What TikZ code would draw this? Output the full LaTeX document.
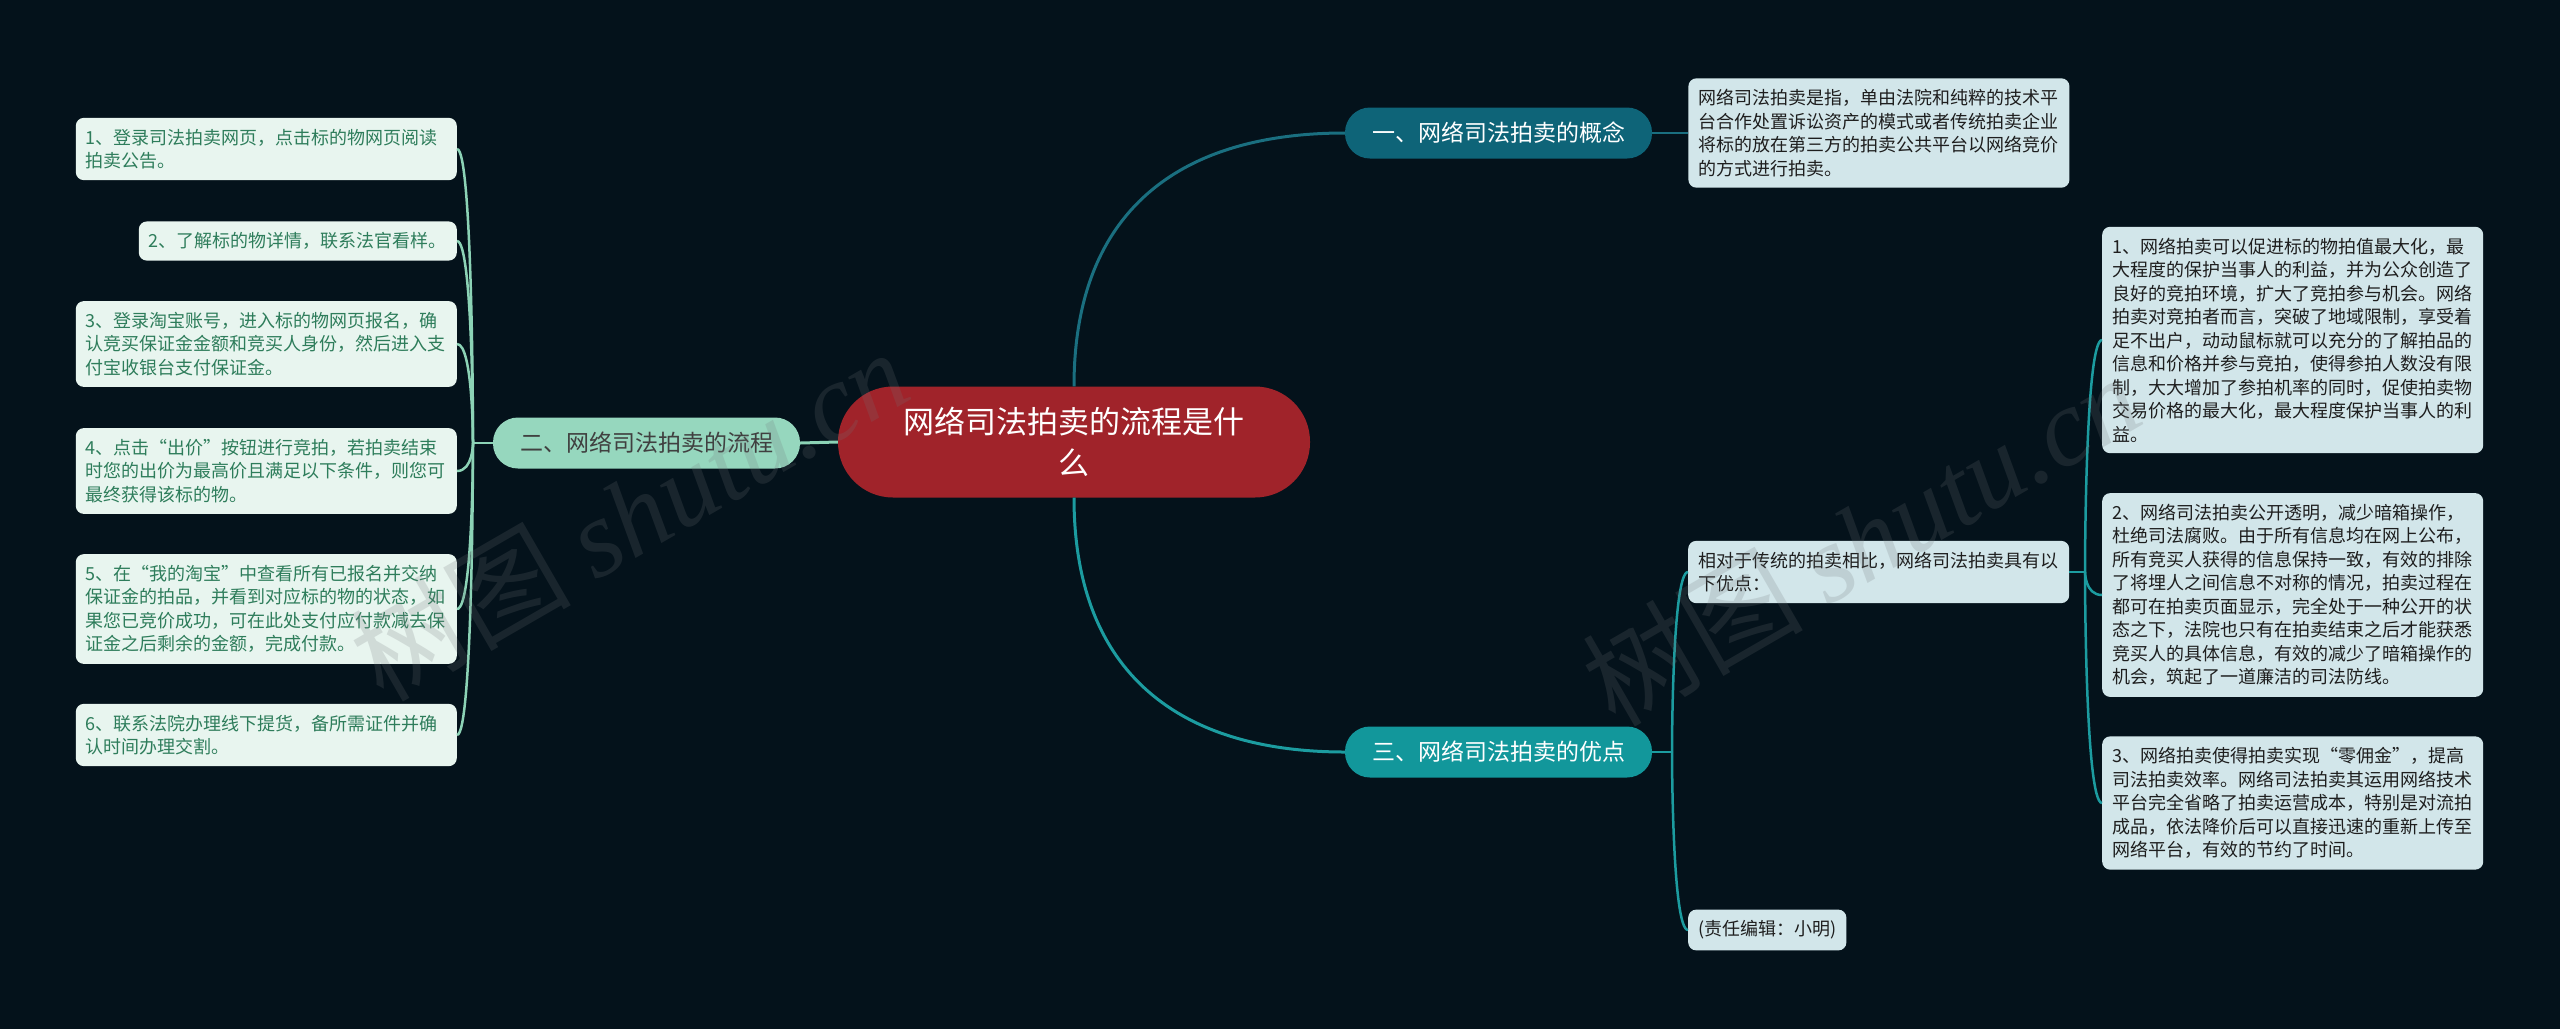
\documentclass[tikz,border=0pt]{standalone}
\usepackage{fontspec}
\setmainfont{Noto Sans CJK SC}
\newfontfamily\wmfont{Liberation Serif}
\usepackage{xcolor}
\definecolor{cBg}{HTML}{04121B}
\definecolor{cRoot}{HTML}{A0232A}
\definecolor{cDeep}{HTML}{0E6478}
\definecolor{cDeepLine}{HTML}{1A6F80}
\definecolor{cTeal}{HTML}{12979B}
\definecolor{cTealLine}{HTML}{1C9CA0}
\definecolor{cMint}{HTML}{96D7BE}
\definecolor{cMintLine}{HTML}{8CD3B6}
\definecolor{cLeafG}{HTML}{E8F5EF}
\definecolor{cLeafGText}{HTML}{2E7D5B}
\definecolor{cLeafB}{HTML}{D2E6EA}
\definecolor{cInk}{HTML}{1E1E1E}
\definecolor{cMark}{HTML}{707578}
\usepackage{tikz}
\usetikzlibrary{positioning,calc}
\tikzset{
  node-root/.style={fill=cRoot,rounded corners=55pt,minimum width=472pt,
    minimum height=111pt,align=center,text=white,font=\fontsize{31}{41}\selectfont},
  node-topic/.style={rounded corners=25pt,minimum width=307pt,minimum height=51pt,
    align=center,font=\fontsize{23}{28}\selectfont},
  topic-deep/.style={fill=cDeep,text=white},
  topic-teal/.style={fill=cTeal,text=white},
  topic-mint/.style={fill=cMint,text=black!75},
  node-leaf/.style={rounded corners=8pt,inner xsep=10pt,inner ysep=11pt,
    align=left,font=\fontsize{18}{23.5}\selectfont},
  leaf-green/.style={fill=cLeafG,text=cLeafGText},
  leaf-blue/.style={fill=cLeafB,text=cInk},
  leaf-wide/.style={text width=361pt},
  link-deep/.style={draw=cDeepLine,line width=3pt},
  link-teal/.style={draw=cTealLine,line width=3pt},
  link-mint/.style={draw=cMintLine,line width=3pt},
  % 水印：树图 shutu.cn
  wm/.style={rotate=30,text=cMark,text opacity=0.2,font=\fontsize{110}{110}\selectfont},
}
\begin{document}
\begin{tikzpicture}[x=1pt,y=-1pt]
  \fill[cBg] (0,0) rectangle (2560,1029);
  \useasboundingbox (0,0) rectangle (2560,1029);
  % 中心主题与三个分支
  \node[node-root] (root) at (1074,442) {网络司法拍卖的流程是什\\么};
  \node[node-topic,topic-deep] (concept) at (1498.5,133) {一、网络司法拍卖的概念};
  \node[node-topic,topic-mint] (process) at (646.5,443) {二、网络司法拍卖的流程};
  \node[node-topic,topic-teal] (merit) at (1498.5,752) {三、网络司法拍卖的优点};
  % 一、概念
  \node[node-leaf,leaf-blue,leaf-wide,right=36pt of concept] (def)
    {网络司法拍卖是指，单由法院和纯粹的技术平\\台合作处置诉讼资产的模式或者传统拍卖企业\\将标的放在第三方的拍卖公共平台以网络竞价\\的方式进行拍卖。};
  % 二、流程
  \node[node-leaf,leaf-green,leaf-wide,anchor=east] (step1) at (457,149)
    {1、登录司法拍卖网页，点击标的物网页阅读\\拍卖公告。};
  \node[node-leaf,leaf-green,anchor=east] (step2) at (457,241)
    {2、了解标的物详情，联系法官看样。};
  \node[node-leaf,leaf-green,leaf-wide,anchor=east] (step3) at (457,344)
    {3、登录淘宝账号，进入标的物网页报名，确\\认竞买保证金金额和竞买人身份，然后进入支\\付宝收银台支付保证金。};
  \node[node-leaf,leaf-green,leaf-wide,anchor=east] (step4) at (457,471)
    {4、点击“出价”按钮进行竞拍，若拍卖结束\\时您的出价为最高价且满足以下条件，则您可\\最终获得该标的物。};
  \node[node-leaf,leaf-green,leaf-wide,anchor=east] (step5) at (457,609)
    {5、在“我的淘宝”中查看所有已报名并交纳\\保证金的拍品，并看到对应标的物的状态，如\\果您已竞价成功，可在此处支付应付款减去保\\证金之后剩余的金额，完成付款。};
  \node[node-leaf,leaf-green,leaf-wide,anchor=east] (step6) at (457,735)
    {6、联系法院办理线下提货，备所需证件并确\\认时间办理交割。};
  % 三、优点
  \node[node-leaf,leaf-blue,leaf-wide,anchor=west] (intro) at (1688,572)
    {相对于传统的拍卖相比，网络司法拍卖具有以\\下优点：};
  \node[node-leaf,leaf-blue,anchor=west] (editor) at (1688,930) {(责任编辑：小明)};
  \node[node-leaf,leaf-blue,leaf-wide,anchor=west] (adv1) at (2102,340)
    {1、网络拍卖可以促进标的物拍值最大化，最\\大程度的保护当事人的利益，并为公众创造了\\良好的竞拍环境，扩大了竞拍参与机会。网络\\拍卖对竞拍者而言，突破了地域限制，享受着\\足不出户，动动鼠标就可以充分的了解拍品的\\信息和价格并参与竞拍，使得参拍人数没有限\\制，大大增加了参拍机率的同时，促使拍卖物\\交易价格的最大化，最大程度保护当事人的利\\益。};
  \node[node-leaf,leaf-blue,leaf-wide,anchor=west] (adv2) at (2102,595)
    {2、网络司法拍卖公开透明，减少暗箱操作，\\杜绝司法腐败。由于所有信息均在网上公布，\\所有竞买人获得的信息保持一致，有效的排除\\了将埋人之间信息不对称的情况，拍卖过程在\\都可在拍卖页面显示，完全处于一种公开的状\\态之下，法院也只有在拍卖结束之后才能获悉\\竞买人的具体信息，有效的减少了暗箱操作的\\机会，筑起了一道廉洁的司法防线。};
  \node[node-leaf,leaf-blue,leaf-wide,anchor=west] (adv3) at (2102,803)
    {3、网络拍卖使得拍卖实现“零佣金”，提高\\司法拍卖效率。网络司法拍卖其运用网络技术\\平台完全省略了拍卖运营成本，特别是对流拍\\成品，依法降价后可以直接迅速的重新上传至\\网络平台，有效的节约了时间。};
  % 连线
  \coordinate (sp-l) at (473,443);
  \coordinate (sp-m) at (1672,752);
  \coordinate (sp-r) at (2085,572);
  \draw[link-deep] (root.north) .. controls +(0,-176) and +(-165,0) .. (concept.west);
  \draw[link-teal] (root.south) .. controls +(0,176) and +(-165,0) .. (merit.west);
  \draw[link-mint] (root.west) -- (process.east);
  \draw[link-deep,line width=2.5pt] (concept.east) -- (def.west);
  \draw[link-mint,line width=2.5pt] (process.west) -- (sp-l);
  \foreach \s in {step1,step2,step3,step4,step5,step6}
    \draw[link-mint,line width=2.5pt] (sp-l) .. controls (sp-l) and (sp-l |- \s.east) .. (\s.east);
  \draw[link-teal,line width=2.5pt] (merit.east) -- (sp-m);
  \foreach \s in {intro,editor}
    \draw[link-teal,line width=2.5pt] (sp-m) .. controls (sp-m) and (sp-m |- \s.west) .. (\s.west);
  \draw[link-teal,line width=2.5pt] (intro.east) -- (sp-r);
  \foreach \s in {adv1,adv2,adv3}
    \draw[link-teal,line width=2.5pt] (sp-r) .. controls (sp-r) and (sp-r |- \s.west) .. (\s.west);
  % 水印
  \node[wm] (wm1) at (629,514) {树图 {\wmfont\itshape shutu.cn}};
  \node[wm] (wm2) at (1861,539) {树图 {\wmfont\itshape shutu.cn}};
\end{tikzpicture}
\end{document}
